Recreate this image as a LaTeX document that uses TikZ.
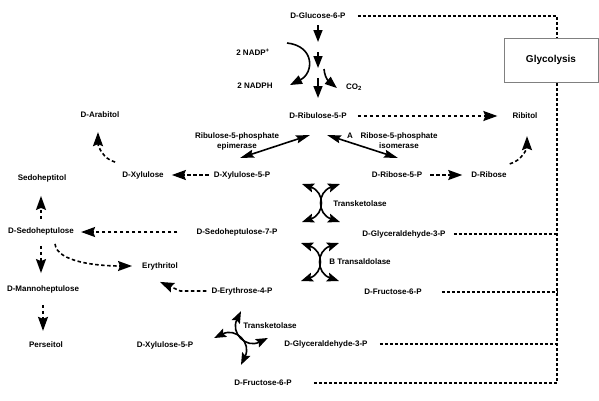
\documentclass[tikz,border=0pt]{standalone}
\usepackage{fontspec}
\setmainfont{Liberation Sans}
\usetikzlibrary{arrows.meta,calc}
\tikzset{
  lbl/.style={font=\fontsize{8}{10}\selectfont\bfseries, inner sep=1pt, align=center},
  flux/.style={line width=1.6pt, -{Triangle[length=12pt,width=9pt]}},
  side/.style={line width=1.6pt, -{Stealth[length=14pt,width=10pt,inset=2pt]}, dash pattern=on 3.5pt off 2.5pt},
  duo/.style={line width=1.6pt, {Stealth[length=12pt,width=9pt,inset=2pt]}-{Stealth[length=12pt,width=9pt,inset=2pt]}},
  slim/.style={line width=1.6pt, {Stealth[length=14pt,width=8pt,inset=2pt]}-{Stealth[length=14pt,width=8pt,inset=2pt]}},
  glyc/.style={line width=1.5pt, dash pattern=on 3pt off 2pt}
}
\newcommand{\swapx}[3]{\begin{scope}[shift={(#1,#2)}, rotate=#3]
\draw[duo] (-19,-19) .. controls (4,-11) and (4,11) .. (-19,19);
\draw[duo] (19,-19) .. controls (-4,-11) and (-4,11) .. (19,19);
\end{scope}}
\begin{document}
\begin{tikzpicture}[x=1pt, y=-1pt]
\useasboundingbox (0,0) rectangle (599,400);
\node[lbl] (g6p) at (318,16) {D-Glucose-6-P};
\node[draw=gray, line width=0.6pt, minimum width=94pt, minimum height=44pt, font=\fontsize{10}{12}\selectfont\bfseries] (glyco) at (551,60) {Glycolysis};
\node[lbl] (nadp) at (253,52) {2 NADP\textsuperscript{+}};
\node[lbl] (nadph) at (255,86) {2 NADPH};
\node[lbl] (co2) at (354,87) {CO\textsubscript{2}};
\node[lbl] (r5pu) at (318,116) {D-Ribulose-5-P};
\node[lbl] (ribitol) at (525,116) {Ribitol};
\node[lbl] (arabitol) at (100,115) {D-Arabitol};
\node[lbl] (epim) at (237,141) {Ribulose-5-phosphate\\epimerase};
\node[lbl] (isom) at (399,141) {Ribose-5-phosphate\\isomerase};
\node[lbl] (lblA) at (350,136) {A};
\node[lbl] (xyl) at (143,175) {D-Xylulose};
\node[lbl] (x5p) at (242,175) {D-Xylulose-5-P};
\node[lbl] (rib5p) at (397,175) {D-Ribose-5-P};
\node[lbl] (ribose) at (489,175) {D-Ribose};
\node[lbl] (sedtol) at (42,178) {Sedoheptitol};
\node[lbl] (tk1) at (360,204) {Transketolase};
\node[lbl] (sed) at (41,231) {D-Sedoheptulose};
\node[lbl] (s7p) at (237,232) {D-Sedoheptulose-7-P};
\node[lbl] (ga3p) at (404,234) {D-Glyceraldehyde-3-P};
\node[lbl] (ta) at (360,262) {B Transaldolase};
\node[lbl] (erytol) at (160,266) {Erythritol};
\node[lbl] (manno) at (43,289) {D-Mannoheptulose};
\node[lbl] (e4p) at (242,291) {D-Erythrose-4-P};
\node[lbl] (f6p) at (393,292) {D-Fructose-6-P};
\node[lbl] (tk2) at (270,326) {Transketolase};
\node[lbl] (x5pb) at (165,345) {D-Xylulose-5-P};
\node[lbl] (ga3pb) at (326,344) {D-Glyceraldehyde-3-P};
\node[lbl] (perse) at (46,345) {Perseitol};
\node[lbl] (f6pb) at (263,383) {D-Fructose-6-P};
\coordinate (trunk) at (557,0);
\draw[glyc, shorten <=11pt] (g6p) -- (g6p -| trunk) -- (glyco.north -| trunk);
\draw[glyc, shorten <=21pt] (f6pb) -- (f6pb -| trunk) -- (glyco.south -| trunk);
\draw[glyc, shorten <=7pt] (ga3p) -- (ga3p -| trunk);
\draw[glyc, shorten <=19pt] (f6p) -- (f6p -| trunk);
\draw[glyc, shorten <=11pt] (ga3pb) -- (ga3pb -| trunk);
\foreach \a/\b in {.09/.26,.36/.52,.62/.82} \draw[flux] ($(g6p)!\a!(r5pu)$) -- ($(g6p)!\b!(r5pu)$);
\coordinate (nin) at (287,43);
\coordinate (nout) at (290,85);
\draw[flux] (nin) .. controls +(28,3) and +(24,-12) .. (nout);
\coordinate (cin) at (324,69);
\draw[flux] (cin) .. controls +(1,11) and +(-6,-5) .. ($(co2.west)+(-8,1)$);
\coordinate (epl) at (240,158);
\coordinate (epr) at (310,135);
\coordinate (isl) at (327,135);
\coordinate (isr) at (398,158);
\draw[slim] (epr) -- (epl);
\draw[slim] (isl) -- (isr);
\draw[side, shorten <=10pt, shorten >=14pt] (r5pu) -- (ribitol);
\draw[side, shorten <=4pt, shorten >=7pt] (x5p) -- (xyl);
\draw[side] ($(xyl.north west)+(-6,-8)$) .. controls +(-12,-3) and +(0,14) .. ($(arabitol.south)+(-2,13)$);
\draw[side, shorten <=7pt, shorten >=13pt] (sed.north) -- (sed.north |- sedtol.south);
\draw[side, shorten <=18pt, shorten >=6pt] (s7p.west) -- (s7p.west -| sed.east);
\draw[side, shorten <=10pt, shorten >=11pt] (sed.south) -- (sed.south |- manno.north);
\draw[side, shorten <=11pt, shorten >=10pt] (manno.south) -- (manno.south |- perse.north);
\draw[side] ($(sed.south)+(14,8)$) .. controls +(2,18) and +(-35,0) .. ($(erytol.west)+(-9,0)$);
\draw[side] ($(e4p.west)+(-4,0)$) -- ++(-26,0) -- ($(erytol.south)+(0,11)$);
\draw[side, shorten <=7pt, shorten >=8pt] (rib5p) -- (ribose);
\draw[side] ($(ribose.north east)+(2,-7)$) .. controls +(12,-3) and +(0,12) .. ($(ribitol.south)+(2,16)$);
\swapx{321}{203}{0}
\swapx{320}{262}{0}
\swapx{241}{338}{45}
\end{tikzpicture}
\end{document}
